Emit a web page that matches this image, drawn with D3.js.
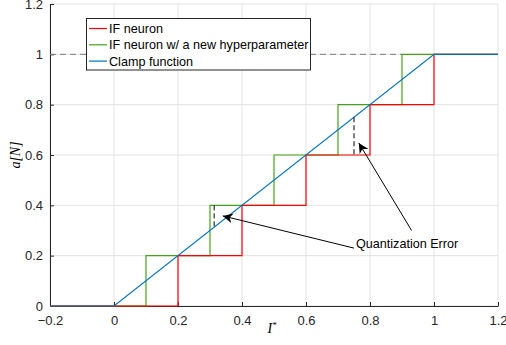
<!DOCTYPE html>
<html>
<head>
<meta charset="utf-8">
<script src="https://cdn.jsdelivr.net/npm/d3@7"></script>
<style>
  body { margin: 0; background: #fff; }
  svg { display: block; font-family: "Liberation Sans", Arial, sans-serif; }
</style>
</head>
<body>
<div id="chart"></div>
<script>
// data
const xTicks = [-0.2, 0, 0.2, 0.4, 0.6, 0.8, 1, 1.2];
const yTicks = [0, 0.2, 0.4, 0.6, 0.8, 1, 1.2];

const ifX = [-0.2, 0.2, 0.2, 0.4, 0.4, 0.6, 0.6, 0.8, 0.8, 1.0, 1.0, 1.2];
const ifY = [0, 0, 0.2, 0.2, 0.4, 0.4, 0.6, 0.6, 0.8, 0.8, 1.0, 1.0];

const newX = [-0.2, 0.1, 0.1, 0.3, 0.3, 0.5, 0.5, 0.7, 0.7, 0.9, 0.9, 1.2];
const newY = [0, 0, 0.2, 0.2, 0.4, 0.4, 0.6, 0.6, 0.8, 0.8, 1.0, 1.0];

const clampX = [-0.2, 0, 1, 1.2];
const clampY = [0, 0, 1, 1];

// quantization error markers
const errX = [0.313, 0.75];
const errTop = [0.4, 0.75];
const errBottom = [0.313, 0.6];

const legendLabels = ["IF neuron", "IF neuron w/ a new hyperparameter", "Clamp function"];
const colors = ["#ff0000", "#44a31c", "#0072bd"];

const W = 506, H = 345;
const svg = d3.select("#chart").append("svg").attr("width", W).attr("height", H);

const x = d3.scaleLinear().domain([-0.2, 1.2]).range([50, 498]);
const y = d3.scaleLinear().domain([0, 1.2]).range([306, 4]);

// grid
svg.append("g").selectAll("line").data(xTicks).join("line")
  .attr("x1", d => x(d)).attr("x2", d => x(d))
  .attr("y1", y(0)).attr("y2", y(1.2))
  .attr("stroke", "#e3e3e3").attr("stroke-width", 1);
svg.append("g").selectAll("line").data(yTicks).join("line")
  .attr("x1", x(-0.2)).attr("x2", x(1.2))
  .attr("y1", d => y(d)).attr("y2", d => y(d))
  .attr("stroke", "#e3e3e3").attr("stroke-width", 1);

// axes
const xAxis = svg.append("g").attr("transform", `translate(0,${y(0)})`)
  .call(d3.axisBottom(x).tickValues(xTicks).tickFormat(d3.format("")).tickSizeInner(-4).tickSizeOuter(0).tickPadding(10));
const yAxis = svg.append("g").attr("transform", `translate(${x(-0.2)},0)`)
  .call(d3.axisLeft(y).tickValues(yTicks).tickFormat(d3.format("")).tickSizeInner(-4).tickSizeOuter(0).tickPadding(7));
[xAxis, yAxis].forEach(g => {
  g.select(".domain").attr("stroke", "#262626");
  g.selectAll(".tick line").attr("stroke", "#262626");
  g.selectAll(".tick text").attr("fill", "#262626").attr("font-size", 13)
    .attr("font-family", "Liberation Sans, Arial, sans-serif");
});

// dashed reference at 1
svg.append("line")
  .attr("x1", x(-0.2)).attr("x2", x(0.9))
  .attr("y1", y(1)).attr("y2", y(1))
  .attr("stroke", "#7f7f7f").attr("stroke-dasharray", "6,4");

const line = d3.line().x(d => x(d[0])).y(d => y(d[1]));
const series = [
  { xs: newX, ys: newY, c: colors[1] },
  { xs: ifX, ys: ifY, c: colors[0] },
  { xs: clampX, ys: clampY, c: colors[2] }
];
series.forEach(s => {
  svg.append("path")
    .datum(s.xs.map((v, i) => [v, s.ys[i]]))
    .attr("d", line)
    .attr("fill", "none")
    .attr("stroke", s.c)
    .attr("stroke-width", 1.2);
});

// error dashes
svg.append("g").selectAll("line").data(errX).join("line")
  .attr("x1", d => x(d)).attr("x2", d => x(d))
  .attr("y1", (d, i) => y(errTop[i])).attr("y2", (d, i) => y(errBottom[i]))
  .attr("stroke", "#000").attr("stroke-width", 1).attr("stroke-dasharray", "5,3");

// arrows
const defs = svg.append("defs");
defs.append("marker").attr("id", "ah")
  .attr("viewBox", "0 0 10 10").attr("refX", 10).attr("refY", 5)
  .attr("markerWidth", 10).attr("markerHeight", 10).attr("markerUnits", "userSpaceOnUse")
  .attr("orient", "auto")
  .append("path").attr("d", "M0,0 L10,5 L0,10 L3,5 Z").attr("fill", "#000");

const arrowFrom = [[0.75, 0.23], [0.93, 0.3]];
const arrowTo = [[0.34, 0.358], [0.765, 0.648]];
svg.append("g").selectAll("line").data(arrowFrom).join("line")
  .attr("x1", d => x(d[0])).attr("y1", d => y(d[1]))
  .attr("x2", (d, i) => x(arrowTo[i][0])).attr("y2", (d, i) => y(arrowTo[i][1]))
  .attr("stroke", "#000").attr("stroke-width", 1)
  .attr("marker-end", "url(#ah)");

svg.append("text").attr("x", 356).attr("y", 248)
  .attr("font-size", 12.6).attr("fill", "#000")
  .text("Quantization Error");

// axis labels
svg.append("text").attr("x", 272).attr("y", 333)
  .attr("text-anchor", "middle")
  .attr("font-family", "Liberation Serif, Times New Roman, serif")
  .attr("font-style", "italic").attr("font-size", 14)
  .html("I<tspan dy='-5' font-size='9'>*</tspan>");
svg.append("text")
  .attr("transform", "translate(20,155) rotate(-90)")
  .attr("text-anchor", "middle")
  .attr("font-family", "Liberation Serif, Times New Roman, serif")
  .attr("font-style", "italic").attr("font-size", 14)
  .text("a[N]");

// legend
const lg = svg.append("g");
lg.append("rect").attr("x", 86.5).attr("y", 18.5).attr("width", 224).attr("height", 51.5)
  .attr("fill", "#fff").attr("stroke", "#262626").attr("stroke-width", 1);
legendLabels.forEach((t, i) => {
  const ly = 28.5 + i * 16.3;
  lg.append("line").attr("x1", 89).attr("x2", 107).attr("y1", ly).attr("y2", ly)
    .attr("stroke", colors[i]).attr("stroke-width", 1.2);
  lg.append("text").attr("x", 109).attr("y", ly + 4.6)
    .attr("font-size", 12.6).attr("fill", "#000").text(t);
});
</script>
</body>
</html>
